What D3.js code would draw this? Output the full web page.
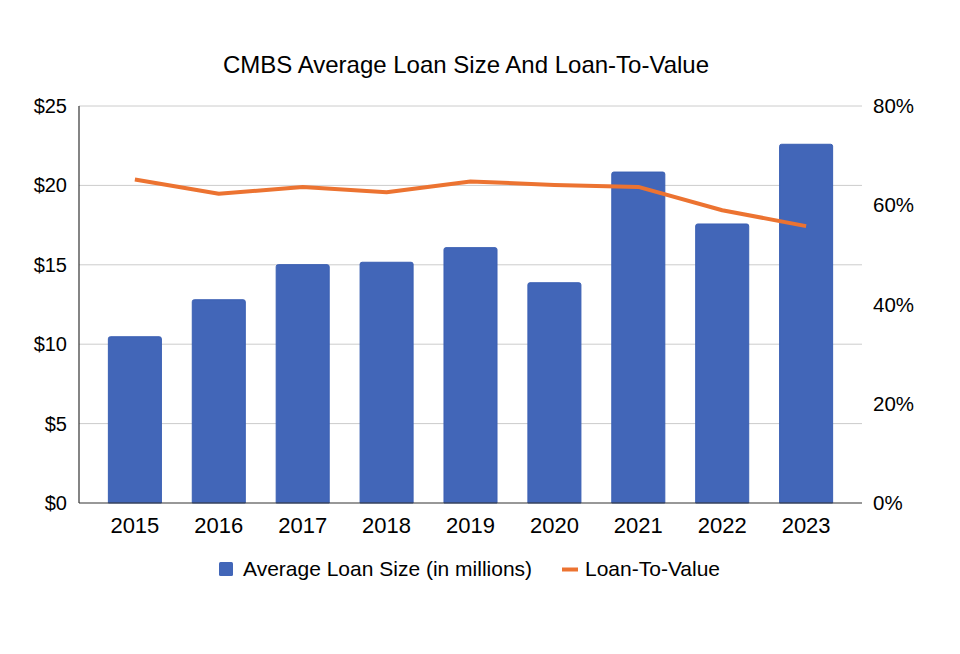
<!DOCTYPE html>
<html>
<head>
<meta charset="utf-8">
<script src="https://cdn.jsdelivr.net/npm/d3@7"></script>
<style>
  body { margin: 0; background: #fff; }
  text { font-family: "Liberation Sans", Arial, sans-serif; fill: #000; }
</style>
</head>
<body>
<div id="app"></div>
<script>
const years = ["2015", "2016", "2017", "2018", "2019", "2020", "2021", "2022", "2023"];
const loanSize = [10.47, 12.80, 15.01, 15.16, 16.08, 13.87, 20.84, 17.57, 22.59];
const ltv = [65.2, 62.3, 63.7, 62.6, 64.8, 64.1, 63.7, 59.0, 55.8];
const leftTicks = [0, 5, 10, 15, 20, 25];
const rightTicks = [0, 20, 40, 60, 80];

const W = 960, H = 654;
// plot box (window.top is taken, so use plot* names)
const plotL = 79, plotR = 862, plotT = 106, plotB = 503;
const blue = "#4266b8", orange = "#ec7331";

const svg = d3.select("#app").append("svg")
    .attr("width", W)
    .attr("height", H);

const x = d3.scaleBand().domain(years).range([plotL, plotR])
    .paddingInner(0.368).paddingOuter(0.35);
const yL = d3.scaleLinear([0, 25], [plotB, plotT]);
const yR = d3.scaleLinear([0, 80], [plotB, plotT]);

// title
svg.append("text")
    .attr("x", 466).attr("y", 73)
    .attr("text-anchor", "middle")
    .style("font-size", "24px")
    .text("CMBS Average Loan Size And Loan-To-Value");

// gridlines follow the left axis
svg.append("g")
    .selectAll("line")
    .data(leftTicks.filter(d => d > 0))
    .join("line")
    .attr("x1", plotL).attr("x2", plotR)
    .attr("y1", d => yL(d)).attr("y2", d => yL(d))
    .attr("stroke", "#cccccc")
    .attr("stroke-width", 1);

// left axis labels
svg.append("g")
    .selectAll("text")
    .data(leftTicks)
    .join("text")
    .attr("x", plotL - 12)
    .attr("y", d => yL(d))
    .attr("dy", "0.35em")
    .attr("text-anchor", "end")
    .style("font-size", "20px")
    .text(d => "$" + d);

// right axis labels
svg.append("g")
    .selectAll("text")
    .data(rightTicks)
    .join("text")
    .attr("x", plotR + 11)
    .attr("y", d => yR(d))
    .attr("dy", "0.35em")
    .attr("text-anchor", "start")
    .style("font-size", "20.5px")
    .text(d => d + "%");

// bars with slightly rounded top corners
function barPath(d, i) {
    const x0 = x(years[i]), w = x.bandwidth();
    const y0 = yL(d), r = 2;
    return `M${x0},${plotB}V${y0 + r}Q${x0},${y0} ${x0 + r},${y0}H${x0 + w - r}Q${x0 + w},${y0} ${x0 + w},${y0 + r}V${plotB}Z`;
}
svg.append("g")
    .selectAll("path")
    .data(loanSize)
    .join("path")
    .attr("d", barPath)
    .attr("fill", blue)
    .attr("stroke", "#3a5fb3")
    .attr("stroke-width", 1);

// axis lines
svg.append("line")
    .attr("x1", plotL).attr("x2", plotL)
    .attr("y1", plotT).attr("y2", plotB)
    .attr("stroke", "#333").attr("stroke-width", 1.2);
svg.append("line")
    .attr("x1", plotL).attr("x2", plotR)
    .attr("y1", plotB).attr("y2", plotB)
    .attr("stroke", "#333").attr("stroke-width", 1.2);

// ltv line
const line = d3.line()
    .x((d, i) => x(years[i]) + x.bandwidth() / 2)
    .y(d => yR(d));
svg.append("path")
    .datum(ltv)
    .attr("d", line)
    .attr("fill", "none")
    .attr("stroke", orange)
    .attr("stroke-width", 4)
    .attr("stroke-linejoin", "round");

// year labels
svg.append("g")
    .selectAll("text")
    .data(years)
    .join("text")
    .attr("x", d => x(d) + x.bandwidth() / 2)
    .attr("y", 533)
    .attr("text-anchor", "middle")
    .style("font-size", "22px")
    .text(d => d);

// legend
const legend = svg.append("g");
legend.append("rect")
    .attr("x", 219).attr("y", 562)
    .attr("width", 14).attr("height", 14)
    .attr("rx", 1.5)
    .attr("fill", blue);
legend.append("text")
    .attr("x", 243).attr("y", 576)
    .style("font-size", "21px")
    .text("Average Loan Size (in millions)");
legend.append("line")
    .attr("x1", 562).attr("x2", 578)
    .attr("y1", 569.5).attr("y2", 569.5)
    .attr("stroke", orange).attr("stroke-width", 4);
legend.append("text")
    .attr("x", 585).attr("y", 576)
    .style("font-size", "21px")
    .text("Loan-To-Value");
</script>
</body>
</html>
